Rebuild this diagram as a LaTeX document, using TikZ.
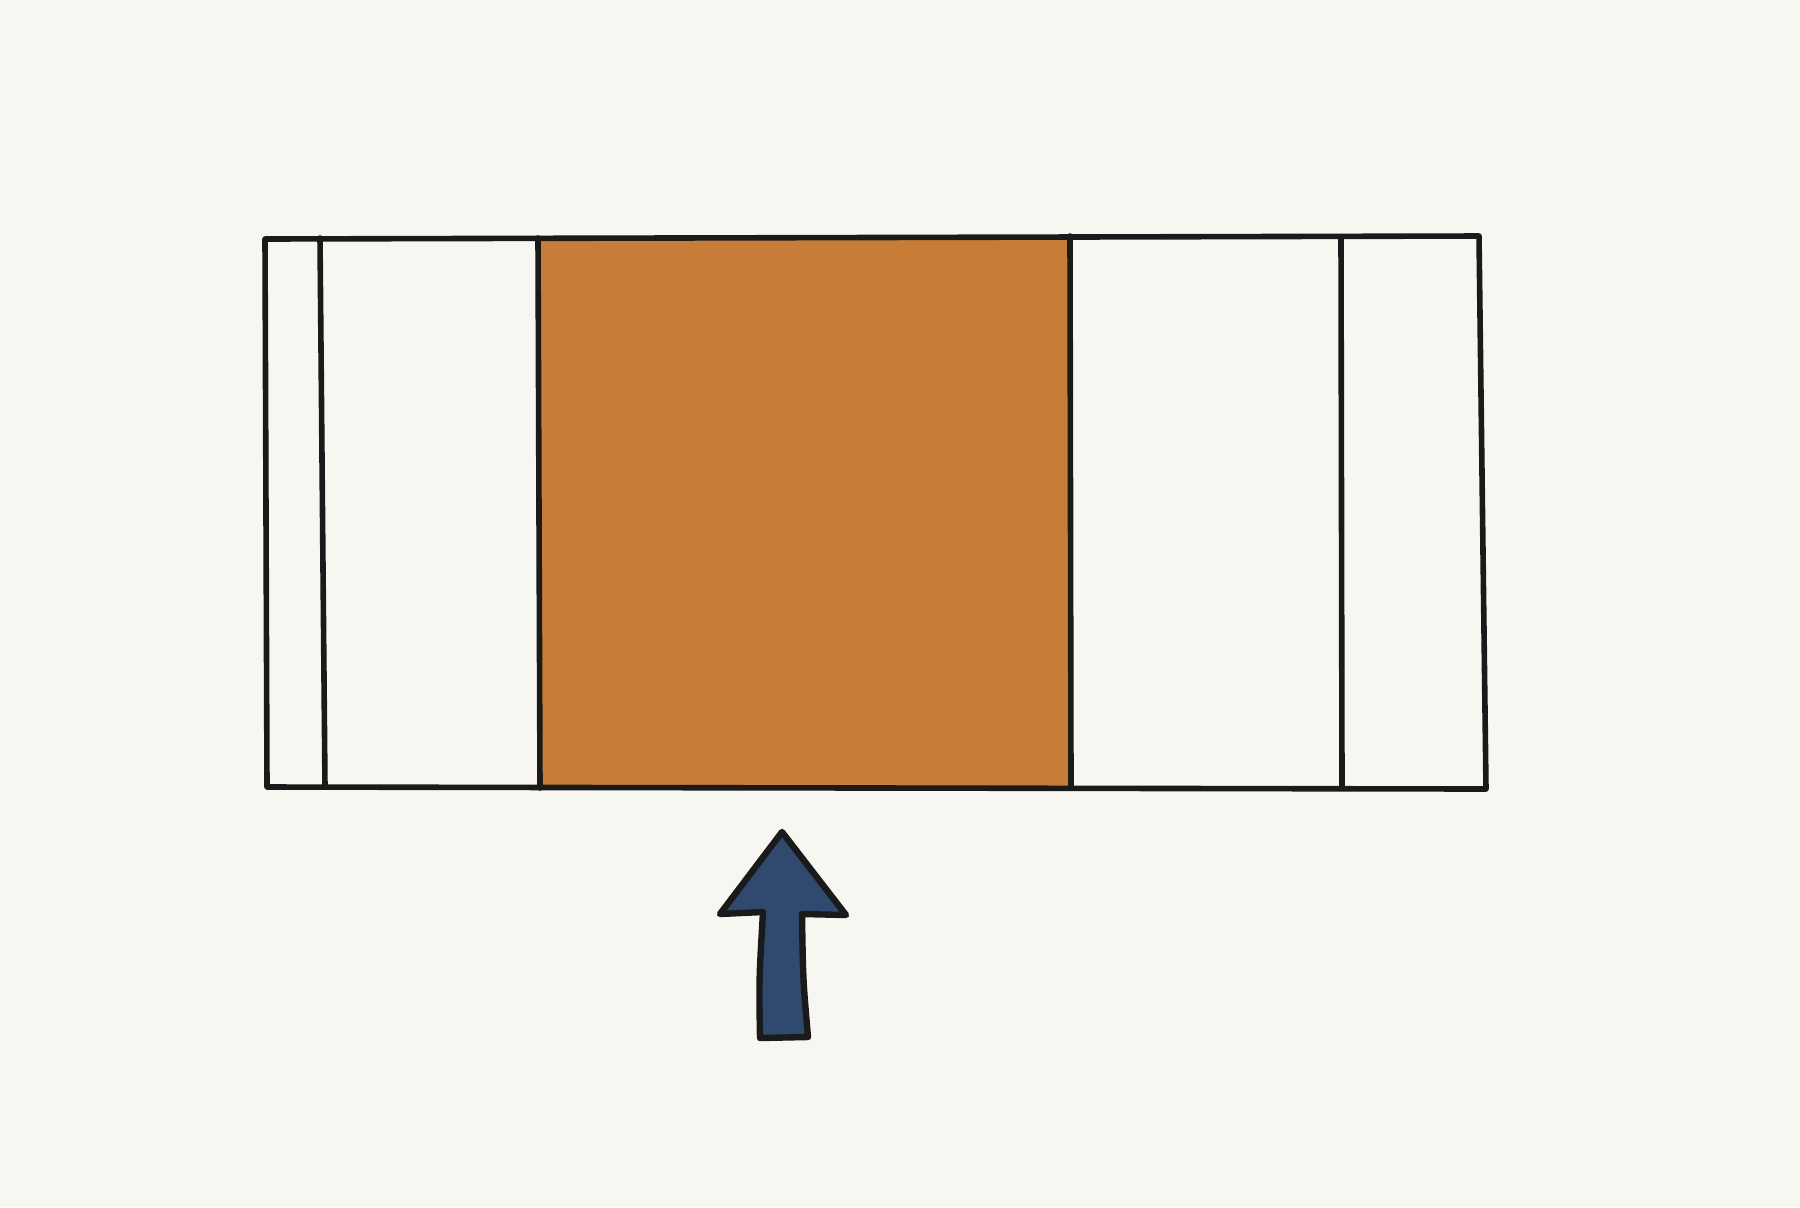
\documentclass[tikz,border=0pt]{standalone}
\usetikzlibrary{positioning}
\definecolor{paper}{HTML}{F7F6F1}
\definecolor{ochre}{HTML}{C77D37}
\definecolor{navy}{HTML}{2F4A6E}
\definecolor{ink}{HTML}{1A1A1A}
\begin{document}
\begin{tikzpicture}[x=0.5pt,y=-0.5pt,line join=round,line cap=round]
  \tikzset{strip/.style={draw=ink,line width=2.8pt},
    pointer/.style={draw=ink,fill=navy,line width=3.2pt}}
%%
  \fill [paper] (0,0) rectangle (1800,1207);
  \useasboundingbox (0,0) rectangle (1800,1207);
  % Frame corners
  \coordinate (tl) at (265,239);
  \coordinate (tr) at (1479,236);
  \coordinate (br) at (1486,789);
  \coordinate (bl) at (267,787);
  % Cell: filled
  \fill [ochre] (539,238) -- (1070,236) -- (1072,787) -- (541,788) -- cycle;
  % Frame
  \draw [strip] (tl) -- (tr) -- (br) -- (bl) -- cycle;
  % Dividers
  \draw [strip] (320,238) -- (325,787);
  \draw [strip] (538,238) -- (540,788);
  \draw [strip] (1070,236) -- (1071,787);
  \draw [strip] (1341,237) -- (1342,788);
  % Pointer
  \draw [pointer] (782,832) -- (846,915) -- (802,914)
    .. controls (803,980) .. (808,1037) -- (760,1038)
    .. controls (759,980) .. (763,912) -- (720,914) -- cycle;
%
\end{tikzpicture}
\end{document}
